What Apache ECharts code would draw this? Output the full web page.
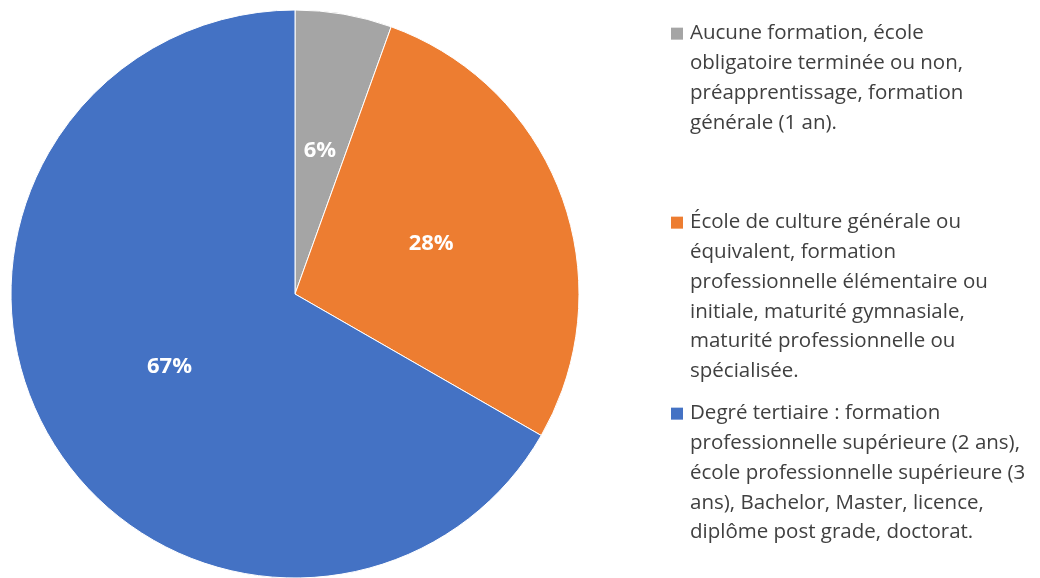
<!DOCTYPE html>
<html>
<head>
<meta charset="utf-8">
<script src="https://cdn.jsdelivr.net/npm/echarts@6/dist/echarts.min.js"></script>
<style>
  html, body { margin: 0; padding: 0; background: #fff; }
  #chart { width: 1040px; height: 578px; }
</style>
</head>
<body>
<div id="chart"></div>
<script>
const categories = [
  "Aucune formation, école\nobligatoire terminée ou non,\npréapprentissage, formation\ngénérale (1 an).",
  "École de culture générale ou\néquivalent, formation\nprofessionnelle élémentaire ou\ninitiale, maturité gymnasiale,\nmaturité professionnelle ou\nspécialisée.",
  "Degré tertiaire : formation\nprofessionnelle supérieure (2 ans),\nécole professionnelle supérieure (3\nans), Bachelor, Master, licence,\ndiplôme post grade, doctorat."
];
const values = [5.5, 27.8, 66.7];
const labels = ["6%", "28%", "67%"];
const colors = ["#A5A5A5", "#ED7D31", "#4472C4"];

const FONT = "'Open Sans', sans-serif";
const LH = 29.7;
const firstLineY = [31, 220, 411];

// square on first line, other lines indented like the office legend
const legends = categories.map((c, i) => ({
  data: [c],
  orient: "vertical",
  left: 666,
  top: firstLineY[i] - LH / 2 + 7,
  padding: 0,
  icon: "none",
  itemWidth: 0,
  itemHeight: 0,
  selectedMode: false,
  formatter: (name) => name.split("\n").map((l, k) =>
    k === 0 ? "{sq|}{gap|}{t|" + l + "}" : "{ind|}{t|" + l + "}").join("\n"),
  textStyle: {
    rich: {
      sq: { width: 12, height: 12, backgroundColor: colors[i], verticalAlign: "middle" },
      gap: { width: 7 },
      ind: { width: 19 },
      t: { fontFamily: FONT, fontSize: 20.5, color: "#404040", lineHeight: LH, verticalAlign: "middle" }
    }
  }
}));

const chart = echarts.init(document.getElementById("chart"), null, { renderer: "canvas" });
chart.setOption({
  animation: false,
  color: colors,
  legend: legends,
  series: [{
    type: "pie",
    center: [295, 294],
    radius: 284,
    startAngle: 90,
    clockwise: true,
    data: categories.map((c, i) => ({ name: c, value: values[i] })),
    itemStyle: { borderColor: "#fff", borderWidth: 1 },
    label: {
      show: true,
      position: "inside",
      formatter: (p) => labels[p.dataIndex],
      color: "#fff",
      fontFamily: FONT,
      fontWeight: "bold",
      fontSize: 22
    },
    labelLine: { show: false }
  }]
});
</script>
</body>
</html>
